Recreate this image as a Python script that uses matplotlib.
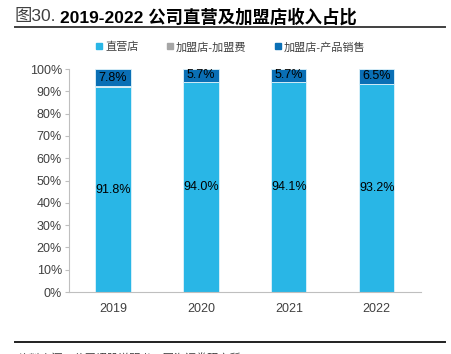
import matplotlib
matplotlib.use('Agg')
import matplotlib.pyplot as plt
from matplotlib.lines import Line2D

plt.rcParams['font.family'] = ['Liberation Sans', 'Noto Sans CJK SC']

years = ['2019', '2020', '2021', '2022']
direct = [91.8, 94.0, 94.1, 93.2]
franchise_fee = [0.4, 0.3, 0.2, 0.3]
franchise_sales = [7.8, 5.7, 5.7, 6.5]
series_names = ['直营店', '加盟店-加盟费', '加盟店-产品销售']

c_light = '#29B6E6'
c_gray = '#A6A6A6'
c_dark = '#0A6FB5'

fig = plt.figure(figsize=(4.51, 3.54), dpi=100)
ax = fig.add_axes([0.153, 0.175, 0.78, 0.63])

x = range(len(years))
w = 0.4
ax.bar(x, direct, w, color=c_light, edgecolor='#dff3fb', linewidth=0.6)
ax.bar(x, franchise_fee, w, bottom=direct, color=c_gray, edgecolor='#dff3fb', linewidth=0.6)
bottom3 = [a + b for a, b in zip(direct, franchise_fee)]
ax.bar(x, franchise_sales, w, bottom=bottom3, color=c_dark, edgecolor='#dff3fb', linewidth=0.6)

for i in x:
    ax.text(i, direct[i] / 2, f'{direct[i]:.1f}%', ha='center', va='center', fontsize=9, color='black')
    ax.text(i, bottom3[i] + franchise_sales[i] / 2, f'{franchise_sales[i]:.1f}%',
            ha='center', va='center', fontsize=9, color='black')

ax.set_xlim(-0.5, 3.5)
ax.set_ylim(0, 100)
ax.set_yticks(range(0, 101, 10))
ax.set_yticklabels([f'{v}%' for v in range(0, 101, 10)])
ax.set_xticks(list(x))
ax.set_xticklabels(years)
ax.tick_params(axis='y', labelsize=9, length=3, width=0.8, direction='out', pad=2)
ax.tick_params(axis='x', labelsize=9, length=0, pad=8)
for lab in ax.get_yticklabels() + ax.get_xticklabels():
    lab.set_color('#404040')
for s in ['top', 'right']:
    ax.spines[s].set_visible(False)
for s in ['left', 'bottom']:
    ax.spines[s].set_color('#BFBFBF')
    ax.spines[s].set_linewidth(0.8)
ax.tick_params(axis='both', color='#BFBFBF')

# legend
handles = [Line2D([], [], marker='s', linestyle='', markersize=4, color=c) for c in (c_light, c_gray, c_dark)]
fig.legend(handles, series_names, loc='center', bbox_to_anchor=(0.51, 0.867), ncol=3, frameon=False,
           fontsize=8, handletextpad=0.15, columnspacing=2.4, labelcolor='#404040', handlelength=0.8)

# title
t1 = fig.text(0.033, 0.952, '图30.', fontsize=12.5, color='#404040', va='center', ha='left')
fig.canvas.draw()
bb = t1.get_window_extent().transformed(fig.transFigure.inverted())
fig.text(bb.x1 + 0.008, 0.952, '2019-2022 公司直营及加盟店收入占比', fontsize=12.5, fontweight='bold',
         color='black', va='center', ha='left')
fig.add_artist(Line2D([0.033, 0.987], [0.923, 0.923], color='#404040', linewidth=1.4))

# bottom rule and cropped source line
fig.add_artist(Line2D([0.033, 0.987], [0.034, 0.034], color='#202020', linewidth=1.4))
fig.text(0.04, -0.012, '资料来源：公司招股说明书，国海证券研究所', fontsize=8, color='#404040',
         va='center', ha='left')

fig.savefig('out.png', dpi=100)
